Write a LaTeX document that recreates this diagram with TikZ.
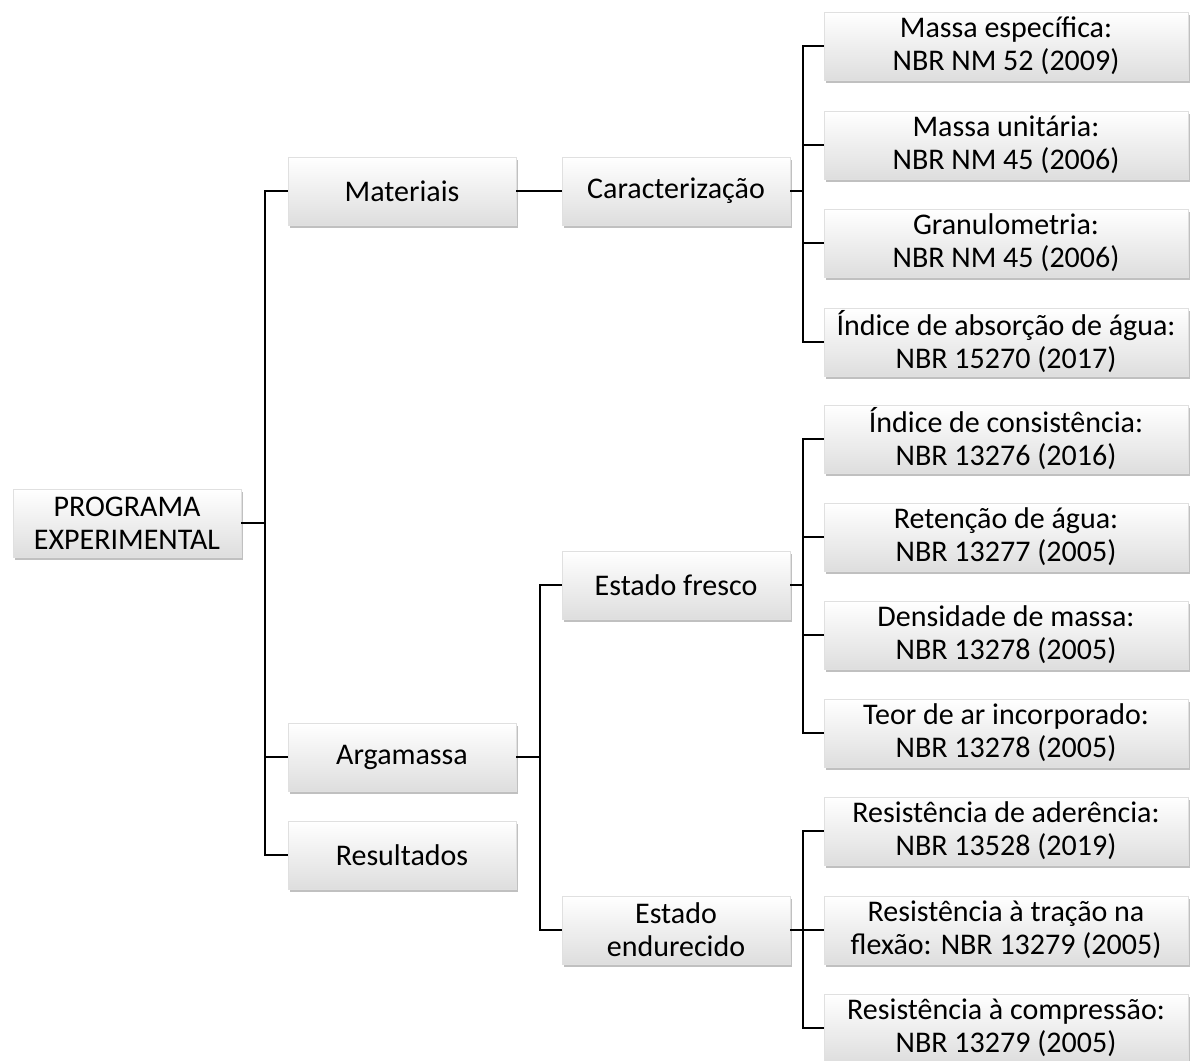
\documentclass[tikz,border=0pt]{standalone}
\usepackage{fontspec}
\setmainfont{Carlito}
\usetikzlibrary{shadows}
\begin{document}
\begin{tikzpicture}[x=1pt,y=-1pt,
  box/.style={shade, top color=white, bottom color=black!13, draw=black!12, line width=0.4pt,
    drop shadow={shadow xshift=2pt, shadow yshift=-3pt, fill=black!45, opacity=0.55},
    align=center, inner sep=0pt, minimum height=68pt,
    font=\fontsize{30}{33}\selectfont, text=black},
  mid/.style={box, minimum width=228pt},
  leaf/.style={box, minimum width=364pt},
  link/.style={line width=1.6pt, black}]
\useasboundingbox (0,0) rectangle (1193,1060);
\clip (0,0) rectangle (1193,1060);
\node[mid] (root) at (127,523) {PROGRAMA\\EXPERIMENTAL};
\node[mid] (mat) at (402,191) {Materiais};
\node[mid] (arg) at (402,757) {Argamassa};
\node[mid] (res) at (402,855) {Resultados};
\node[mid] (car) at (676,191) {Caracterização};
\node[mid] (fre) at (676,585) {Estado fresco};
\node[mid] (end) at (676,930) {Estado\\endurecido};
\node[leaf] (l1) at (1006,46) {Massa específica:\\NBR NM 52 (2009)};
\node[leaf] (l2) at (1006,145) {Massa unitária:\\NBR NM 45 (2006)};
\node[leaf] (l3) at (1006,243) {Granulometria:\\NBR NM 45 (2006)};
\node[leaf] (l4) at (1006,342) {Índice de absorção de água:\\NBR 15270 (2017)};
\node[leaf] (l5) at (1006,439) {Índice de consistência:\\NBR 13276 (2016)};
\node[leaf] (l6) at (1006,537) {Retenção de água:\\NBR 13277 (2005)};
\node[leaf] (l7) at (1006,635) {Densidade de massa:\\NBR 13278 (2005)};
\node[leaf] (l8) at (1006,733) {Teor de ar incorporado:\\NBR 13278 (2005)};
\node[leaf] (l9) at (1006,831) {Resistência de aderência:\\NBR 13528 (2019)};
\node[leaf] (l10) at (1006,930) {Resistência à tração na\\flexão: NBR 13279 (2005)};
\node[leaf] (l11) at (1006,1028) {Resistência à compressão:\\NBR 13279 (2005)};
% connectors
\foreach \t in {mat,arg,res} \draw[link] (root.east) -- ++(24,0) |- (\t.west);
\draw[link] (mat.east) -- (car.west);
\foreach \t in {fre,end} \draw[link] (arg.east) -- ++(24,0) |- (\t.west);
\foreach \t in {l1,l2,l3,l4} \draw[link] (car.east) -- ++(13,0) |- (\t.west);
\foreach \t in {l5,l6,l7,l8} \draw[link] (fre.east) -- ++(13,0) |- (\t.west);
\foreach \t in {l9,l10,l11} \draw[link] (end.east) -- ++(13,0) |- (\t.west);
\end{tikzpicture}
\end{document}
